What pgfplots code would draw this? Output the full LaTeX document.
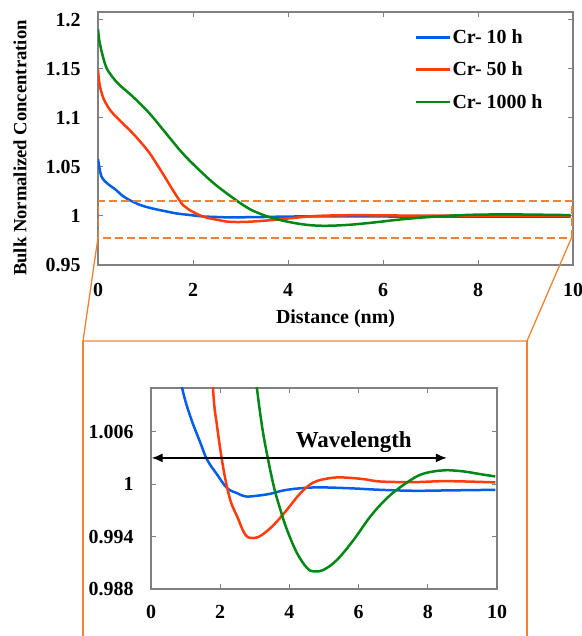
\documentclass[border=0pt]{standalone}
\usepackage{pgfplots}
\pgfplotsset{compat=1.18}
\usepackage{pgfplotstable}
\usepackage{fontspec}
\setmainfont{Liberation Serif}
\usetikzlibrary{arrows.meta}
\definecolor{cblue}{RGB}{0,95,230}
\definecolor{cred}{RGB}{255,60,10}
\definecolor{cgreen}{RGB}{0,135,20}
\definecolor{corange}{RGB}{242,130,50}
\definecolor{axgray}{RGB}{128,128,128}

\pgfplotstableread{
x y
0 1.058
0.05 1.044
0.1 1.038
0.2 1.033
0.38 1.0265
0.5 1.0212
0.66 1.0163
0.9 1.011
1.14 1.0077
1.43 1.0047
1.62 1.0028
1.91 1.0011
2.2 0.99954
2.49 0.99897
2.73 0.99859
3.06 0.99867
3.45 0.9989
3.93 0.99935
4.7 0.99962
5.66 0.99954
6.63 0.99935
7.59 0.99924
8.55 0.99928
9.95 0.99935
}\blue

\pgfplotstableread{
x y
0 1.149
0.03 1.135
0.1 1.1218
0.2 1.112
0.31 1.1048
0.5 1.0955
0.73 1.0844
0.9 1.0752
1.08 1.0645
1.25 1.0520
1.43 1.0380
1.6 1.0245
1.79 1.011
1.91 1.0066
2.1 1.0016
2.29 0.9982
2.49 0.9963
2.73 0.9942
2.97 0.99383
3.21 0.9942
3.55 0.99535
3.93 0.99707
4.32 0.99897
4.7 1.0002
5.18 1.00069
5.57 1.00076
6.15 1.00057
6.63 1.0003
7.59 1.00023
8.55 1.00034
9.95 1.0002
}\red

\pgfplotstableread{
x y
0 1.1905
0.03 1.178
0.07 1.169
0.17 1.152
0.3 1.142
0.45 1.1337
0.73 1.1218
1.08 1.1048
1.43 1.0844
1.78 1.064
2.13 1.0469
2.48 1.0316
2.9 1.0163
3.06 1.011
3.21 1.0066
3.35 1.0035
3.55 0.99973
3.74 0.99707
3.93 0.99478
4.22 0.99211
4.51 0.9904
4.7 0.99002
4.99 0.9902
5.38 0.99135
5.86 0.99364
6.34 0.9963
6.82 0.9984
7.3 0.99992
7.78 1.00107
8.27 1.00152
8.55 1.0016
9.04 1.00145
9.52 1.00114
9.95 1.00088
}\green

\pgfplotsset{
  common/.style={
    scale only axis,
    axis line style={axgray, line width=1.2bp},
    tick style={axgray, line width=1bp},
    tick align=inside,
    major tick length=5bp,
    xmin=0, xmax=10,
    xtick={0,2,4,6,8,10},
    xticklabels={0,2,4,6,8,10},
    /pgf/number format/assume math mode=true,
    ticklabel style={font=\fontsize{20}{22}\selectfont\bfseries},
    clip=true,
  },
  curve/.style={line width=2.5bp, smooth, tension=0.6, no markers},
}

\begin{document}
\begin{tikzpicture}
\path[use as bounding box] (0bp,0bp) rectangle (582bp,636bp);

\begin{axis}[common,
  at={(98bp,371bp)}, anchor=south west,
  width=475bp, height=253bp,
  ymin=0.95, ymax=1.208,
  ytick={0.95,1,1.05,1.1,1.15,1.2},
  yticklabels={0.95,1,1.05,1.1,1.15,1.2},
  xticklabel style={yshift=-15bp},
  yticklabel style={xshift=-14bp},
  xlabel={Distance (nm)},
  ylabel={Bulk Normalized Concentration},
  xlabel style={font=\fontsize{20}{22}\selectfont\bfseries, at={(rel axis cs:0.5,-0.212)}, anchor=center},
  ylabel style={font=\fontsize{18.7}{20}\selectfont\bfseries, at={(rel axis cs:-0.164,0.462)}, anchor=center},
  legend style={at={(rel axis cs:0.667,0.935)}, anchor=north west, draw=none, fill=none,
    font=\fontsize{20}{22}\selectfont\bfseries, inner sep=0pt, row sep=15bp,
    nodes={inner sep=1bp}},
  legend cell align=left,
  legend image code/.code={\draw[#1, line width=2.5bp] (0bp,0bp) -- (34bp,0bp);},
]
\addplot[curve, cblue] table[x=x,y=y] {\blue};
\addlegendentry{Cr- 10 h}
\addplot[curve, cred] table[x=x,y=y] {\red};
\addlegendentry{Cr- 50 h}
\addplot[curve, cgreen] table[x=x,y=y] {\green};
\addlegendentry{Cr- 1000 h}
\draw[corange, line width=2bp, dash pattern=on 8bp off 4bp] (axis cs:0,0.978) rectangle (axis cs:9.97,1.0156);
\coordinate (bl) at (axis cs:0,0.978);
\coordinate (br) at (axis cs:9.97,0.978);
\end{axis}

\draw[corange, line width=1.3bp] (bl) -- (83bp,295bp) -- (527bp,295bp) -- (br);
\draw[corange, line width=1.3bp] (83bp,295bp) -- (83bp,-2bp);
\draw[corange, line width=1.3bp] (527bp,295bp) -- (527bp,-2bp);

\begin{axis}[common,
  at={(151bp,47bp)}, anchor=south west,
  width=346bp, height=201bp,
  ymin=0.988, ymax=1.011,
  ytick={0.988,0.994,1,1.006},
  yticklabels={0.988,0.994,1,1.006},
  xticklabel style={yshift=-13bp},
  yticklabel style={xshift=-14bp},
]
\addplot[curve, cblue] table[x=x,y=y] {\blue};
\addplot[curve, cred] table[x=x,y=y] {\red};
\addplot[curve, cgreen] table[x=x,y=y] {\green};
\draw[{Latex[length=11bp,width=9bp]}-{Latex[length=11bp,width=9bp]}, line width=1.3bp, black]
  (axis cs:0.02,1.003) -- (axis cs:8.55,1.003);
\node[font=\fontsize{23}{25}\selectfont\bfseries] at (axis cs:5.86,1.0048) {Wavelength};
\end{axis}
\end{tikzpicture}
\end{document}
